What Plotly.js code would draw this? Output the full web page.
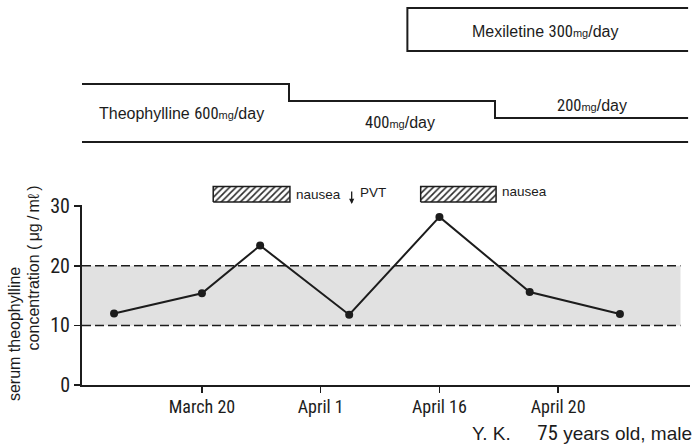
<!DOCTYPE html>
<html><head><meta charset="utf-8">
<script src="https://cdn.plot.ly/plotly-3.0.1.min.js"></script>
<style>html,body{margin:0;padding:0;background:#fff}#chart{width:696px;height:444px}</style>
</head><body><div id="chart"></div>
<script>
// Ordinal time scale: one unit between labelled dates
const tickPositions = [1, 2, 3, 4];
const tickLabels = ['March 20', 'April 1', 'April 16', 'April 20'];
const yTicks = [0, 10, 20, 30];

// serum theophylline concentration (µg/ml)
const samplePositions = [0.26, 1.0, 1.49, 2.24, 3.0, 3.76, 4.52];
const theophyllineLevel = [12.0, 15.4, 23.4, 11.8, 28.2, 15.6, 11.9];

// therapeutic range
const therapeuticLow = 10;
const therapeuticHigh = 20;
const rangeEnd = 5.03;

// drug regimens
const theoDoseStart = [-0.01, 1.733, 3.468];
const theoDose = [600, 400, 200];
const regimenEnd = 5.094;
const mexStart = 2.73;
const mexDose = 300;

// events
const nauseaStart = [1.095, 2.842];
const nauseaEnd = [1.741, 3.477];
const pvtPosition = 2.261;

const INK = '#1c1c1c';
const COND = 'Roboto Condensed, DejaVu Sans Condensed, sans-serif';
const REG = 'Liberation Sans, Arial, sans-serif';

function cond(t, size) {
  return '<span style="font-family:Roboto Condensed' + (size ? ';font-size:' + size + 'px' : '') + '">' + t + '</span>';
}
function doseText(prefix, dose) {
  return prefix + cond(dose, 16.5) + '<span style="font-size:11px">mg</span>/day';
}

const traces = [];

// concentration line
traces.push({
  x: samplePositions, y: theophyllineLevel, xaxis: 'x', yaxis: 'y',
  type: 'scatter', mode: 'lines+markers',
  line: {color: INK, width: 2},
  marker: {color: INK, size: 8},
  hoverinfo: 'skip', showlegend: false, cliponaxis: false
});

// theophylline dose step line (dose axis y3)
traces.push({
  x: theoDoseStart.concat([regimenEnd]),
  y: theoDose.concat([theoDose[theoDose.length - 1]]),
  xaxis: 'x', yaxis: 'y3', type: 'scatter', mode: 'lines',
  line: {color: INK, width: 2, shape: 'hv'},
  hoverinfo: 'skip', showlegend: false, cliponaxis: false
});

// nausea hatched boxes (paper-like axis y2)
const boxB = 0.480, boxT = 0.521;
for (let i = 0; i < nauseaStart.length; i++) {
  const s = nauseaStart[i], e = nauseaEnd[i];
  traces.push({
    x: [s, e, e, s, s], y: [boxB, boxB, boxT, boxT, boxB],
    xaxis: 'x', yaxis: 'y2', type: 'scatter', mode: 'lines',
    fill: 'toself', fillcolor: '#ffffff',
    fillpattern: {shape: '/', fgcolor: '#2a2a2a', bgcolor: '#ffffff', size: 4.5, solidity: 0.35},
    line: {color: INK, width: 1.5},
    hoverinfo: 'skip', showlegend: false
  });
}

const shapes = [
  // therapeutic band
  {type: 'rect', xref: 'x', yref: 'y', x0: theoDoseStart[0], x1: rangeEnd,
   y0: therapeuticLow, y1: therapeuticHigh, fillcolor: '#e1e1e1', line: {width: 0}, layer: 'below'},
  {type: 'line', xref: 'x', yref: 'y', x0: theoDoseStart[0], x1: rangeEnd,
   y0: therapeuticHigh, y1: therapeuticHigh, line: {color: INK, width: 1.5, dash: '9px,4px'}},
  {type: 'line', xref: 'x', yref: 'y', x0: theoDoseStart[0], x1: rangeEnd,
   y0: therapeuticLow, y1: therapeuticLow, line: {color: INK, width: 1.5, dash: '9px,4px'}},
  // theophylline baseline
  {type: 'line', xref: 'x', yref: 'paper', x0: theoDoseStart[0], x1: regimenEnd,
   y0: 0.6378, y1: 0.6378, line: {color: INK, width: 2}},
  // mexiletine box (open on the right)
  {type: 'path', xref: 'x', yref: 'paper',
   path: 'M ' + regimenEnd + ',0.9895 L ' + mexStart + ',0.9895 L ' + mexStart + ',0.8766 L ' + regimenEnd + ',0.8766',
   line: {color: INK, width: 2}}
];

const theoMid = [];
for (let i = 0; i < theoDose.length; i++) {
  const a = theoDoseStart[i], b = (i + 1 < theoDoseStart.length) ? theoDoseStart[i + 1] : regimenEnd;
  theoMid.push((a + b) / 2);
}
const theoLabelY = [0.7139, 0.6895, 0.7323];
const theoLabelShift = [-0.03, 0.07, 0];
const theoPrefix = ['Theophylline ', '', ''];

const annotations = [];
function ann(o) {
  annotations.push(Object.assign({showarrow: false, xanchor: 'center', yanchor: 'middle'}, o));
}
for (let i = 0; i < theoDose.length; i++) {
  ann({
    x: theoMid[i] + theoLabelShift[i], y: theoLabelY[i], xref: 'x', yref: 'paper',
    text: doseText(theoPrefix[i], theoDose[i]),
    font: {family: REG, size: 16, color: INK}
  });
}
ann({
  x: (mexStart + regimenEnd) / 2 - 0.02, y: 0.9273, xref: 'x', yref: 'paper',
  text: doseText('Mexiletine ', mexDose),
  font: {family: REG, size: 16, color: INK}
});
const nauseaY = [0.4995, 0.5066];
for (let i = 0; i < nauseaEnd.length; i++) {
  ann({
    x: nauseaEnd[i], y: nauseaY[i], xref: 'x', yref: 'paper', xanchor: 'left', xshift: 4,
    text: 'nausea', font: {family: REG, size: 13.5, color: INK}
  });
}
annotations.push({
  x: pvtPosition, y: 0.475, xref: 'x', yref: 'paper', text: '', showarrow: true,
  ax: 0, ay: -14, arrowhead: 2, arrowsize: 0.8, arrowwidth: 1.3, arrowcolor: INK
});
ann({
  x: pvtPosition, y: 0.504, xref: 'x', yref: 'paper', xanchor: 'left', xshift: 6,
  text: 'PVT', font: {family: REG, size: 13.5, color: INK}
});
ann({
  x: -0.110, y: 0.134, xref: 'paper', yref: 'paper', textangle: -90,
  text: 'serum theophylline', font: {family: REG, size: 16, color: INK}
});
ann({
  x: -0.080, y: 0.307, xref: 'paper', yref: 'paper', textangle: -90,
  text: 'concentration (\u2009μg\u2009/\u2009mℓ\u2009)', font: {family: REG, size: 16, color: INK}
});
ann({
  x: 1.006, y: -0.126, xref: 'paper', yref: 'paper', xanchor: 'right',
  text: 'Y. K.\u00a0\u00a0\u00a0\u00a0 ' + cond('75', 21) + ' years old, male',
  font: {family: REG, size: 19, color: INK}
});

const layout = {
  width: 696, height: 444,
  margin: {l: 82, r: 6, t: 4, b: 59},
  paper_bgcolor: '#ffffff', plot_bgcolor: 'rgba(0,0,0,0)',
  showlegend: false,
  xaxis: {
    range: [-0.01, 5.11], anchor: 'y', tickvals: tickPositions, ticktext: tickLabels,
    ticks: 'outside', ticklen: 6, tickwidth: 1.5, tickcolor: INK, ticklabelstandoff: -2,
    showline: true, linewidth: 2, linecolor: INK, showgrid: false, zeroline: false,
    tickfont: {family: COND, size: 18, color: INK}, fixedrange: true
  },
  yaxis: {
    domain: [0, 0.4724], range: [0, 30.2], anchor: 'x', tickvals: yTicks,
    ticks: 'outside', ticklen: 6, tickwidth: 1.5, tickcolor: INK,
    showline: true, linewidth: 2, linecolor: INK, showgrid: false, zeroline: false,
    tickfont: {family: COND, size: 20, color: INK}, fixedrange: true
  },
  yaxis2: {domain: [0, 1], range: [0, 1], anchor: 'x', visible: false, fixedrange: true},
  yaxis3: {domain: [0.6, 1], range: [-251.8, 1541], anchor: 'x', visible: false, fixedrange: true},
  shapes: shapes,
  annotations: annotations
};

Plotly.newPlot('chart', traces, layout, {staticPlot: true, displayModeBar: false});
</script>
</body></html>
